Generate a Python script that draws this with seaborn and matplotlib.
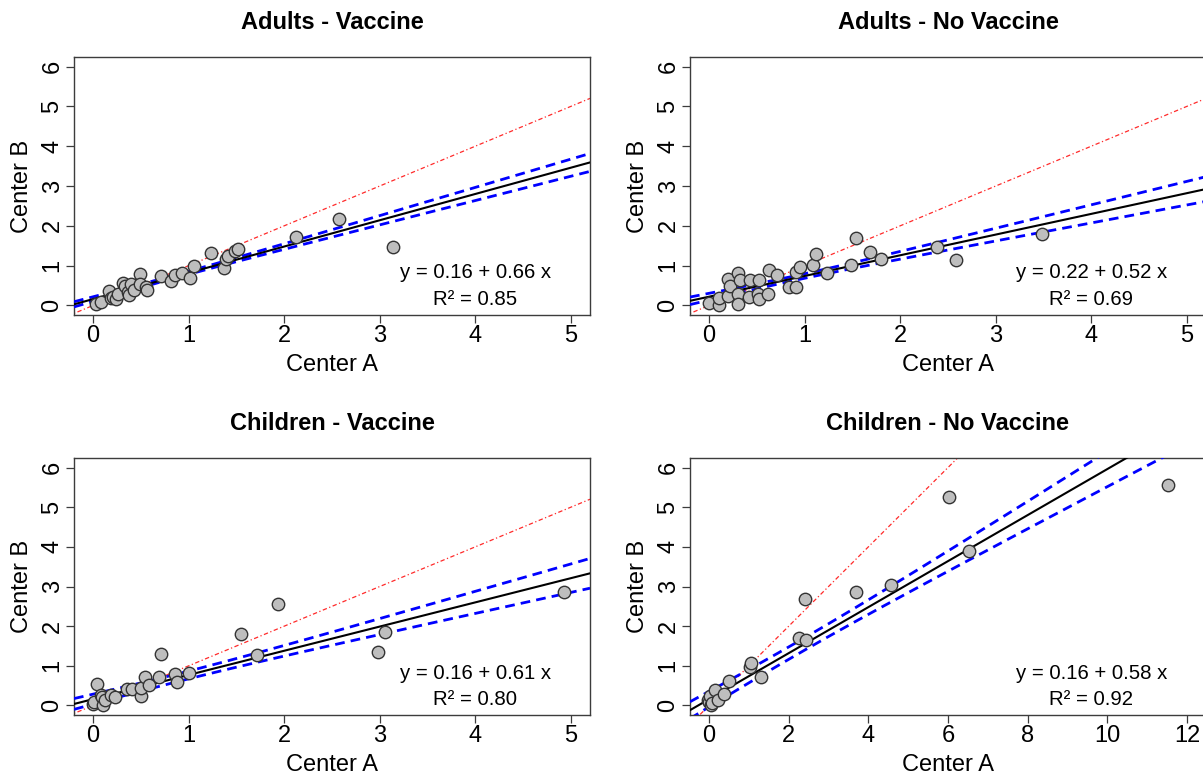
import numpy as np
import pandas as pd
import seaborn as sns
import matplotlib
matplotlib.use("Agg")
import matplotlib.pyplot as plt

# ---- data (Center A vs Center B) ----
titles = ["Adults - Vaccine", "Adults - No Vaccine",
          "Children - Vaccine", "Children - No Vaccine"]

adults_vac_a = [0.03, 0.08, 0.17, 0.19, 0.21, 0.24, 0.26, 0.31, 0.33, 0.36, 0.38,
                0.40, 0.43, 0.49, 0.49, 0.55, 0.56, 0.71, 0.81, 0.86, 0.93, 1.01,
                1.06, 1.23, 1.37, 1.39, 1.41, 1.49, 1.52, 2.12, 2.57, 3.14]
adults_vac_b = [0.03, 0.08, 0.37, 0.18, 0.22, 0.16, 0.28, 0.57, 0.49, 0.33, 0.25,
                0.53, 0.40, 0.79, 0.53, 0.47, 0.39, 0.74, 0.61, 0.77, 0.82, 0.68,
                1.00, 1.32, 0.93, 1.17, 1.25, 1.37, 1.41, 1.73, 2.16, 1.48]

adults_novac_a = [0.00, 0.10, 0.10, 0.20, 0.20, 0.22, 0.30, 0.30, 0.30, 0.32, 0.42,
                  0.43, 0.51, 0.52, 0.52, 0.62, 0.63, 0.71, 0.84, 0.91, 0.91, 0.95,
                  1.09, 1.12, 1.23, 1.48, 1.54, 1.68, 1.80, 2.38, 2.58, 3.48]
adults_novac_b = [0.07, 0.00, 0.19, 0.23, 0.67, 0.48, 0.82, 0.28, 0.04, 0.65, 0.21,
                  0.63, 0.30, 0.15, 0.63, 0.30, 0.88, 0.76, 0.47, 0.47, 0.84, 0.96,
                  1.01, 1.28, 0.82, 1.01, 1.69, 1.33, 1.17, 1.47, 1.13, 1.80]

child_vac_a = [0.00, 0.01, 0.04, 0.08, 0.09, 0.10, 0.12, 0.19, 0.23, 0.35, 0.41,
               0.50, 0.50, 0.54, 0.58, 0.69, 0.71, 0.86, 0.88, 1.00, 1.55, 1.72,
               1.94, 2.98, 3.05, 4.93]
child_vac_b = [0.03, 0.08, 0.55, 0.27, 0.22, 0.02, 0.15, 0.27, 0.21, 0.42, 0.42,
               0.23, 0.44, 0.72, 0.52, 0.72, 1.31, 0.80, 0.58, 0.81, 1.81, 1.27,
               2.56, 1.35, 1.85, 2.86]

child_novac_a = [-0.03, 0.00, 0.02, 0.04, 0.08, 0.15, 0.23, 0.38, 0.49, 1.03, 1.06,
                 1.30, 2.25, 2.44, 2.42, 3.69, 4.56, 6.02, 6.53, 11.52]
child_novac_b = [0.15, 0.08, 0.25, 0.00, 0.06, 0.40, 0.15, 0.28, 0.61, 0.98, 1.07,
                 0.73, 1.70, 1.64, 2.69, 2.87, 3.03, 5.26, 3.90, 5.56]

# regression shown in the reference (labels) and band half-width at right edge
fit_intercept = [0.16, 0.22, 0.16, 0.16]
fit_slope = [0.66, 0.52, 0.61, 0.58]
fit_r2 = [0.85, 0.69, 0.80, 0.92]
band_edge_halfwidth = [0.225, 0.31, 0.375, 0.57]

x_max = [5, 5, 5, 12]
x_ticks = [[0, 1, 2, 3, 4, 5], [0, 1, 2, 3, 4, 5],
           [0, 1, 2, 3, 4, 5], [0, 2, 4, 6, 8, 10, 12]]
y_ticks = [0, 1, 2, 3, 4, 5, 6]

panels = [(adults_vac_a, adults_vac_b), (adults_novac_a, adults_novac_b),
          (child_vac_a, child_vac_b), (child_novac_a, child_novac_b)]

sns.set_theme(style="white")
plt.rcParams["font.family"] = ["Liberation Sans", "DejaVu Sans"]
plt.rcParams["axes.edgecolor"] = "#3c3c3c"
plt.rcParams["axes.linewidth"] = 1.0
plt.rcParams["text.color"] = "black"
plt.rcParams["axes.labelcolor"] = "black"
plt.rcParams["xtick.labelcolor"] = "black"
plt.rcParams["ytick.labelcolor"] = "black"

fig = plt.figure(figsize=(12.03, 7.74), dpi=100)
W, H = 1203, 774
boxes = [(74, 57, 516, 258), (690, 57, 516, 258),
         (74, 458, 516, 257), (690, 458, 516, 257)]

for i, (xa, yb) in enumerate(panels):
    l, t, w, h = boxes[i]
    ax = fig.add_axes([l / W, 1 - (t + h) / H, w / W, h / H])
    df = pd.DataFrame({"A": xa, "B": yb})

    pad = 0.04 * x_max[i]
    xlim = (-pad, x_max[i] + pad)
    ylim = (-0.24, 6.24)
    xs = np.linspace(xlim[0], xlim[1], 300)

    # identity line y = x
    sns.lineplot(x=xs, y=xs, ax=ax, color="#ff2a2a", lw=0.9,
                 dashes=(1.0, 2.0, 3.5, 2.0), zorder=2)

    # fitted line and its confidence band (hyperbolic shape from the x data)
    x = df["A"].to_numpy()
    n = len(x)
    sxx = np.sum((x - x.mean()) ** 2)
    shape = np.sqrt(1 / n + (xs - x.mean()) ** 2 / sxx)
    half = band_edge_halfwidth[i] * shape / shape[-1]
    fit = fit_intercept[i] + fit_slope[i] * xs

    for band in (fit + half, fit - half):
        ax.plot(xs, band, color="#0000ff", lw=2, dashes=(3.5, 2.2), zorder=3)
    ax.plot(xs, fit, color="black", lw=1.5, zorder=3)

    sns.scatterplot(data=df, x="A", y="B", ax=ax, s=80, color="#bebebe",
                    edgecolor="#333333", linewidth=1.0, zorder=4)

    ax.set_xlim(xlim)
    ax.set_ylim(ylim)
    ax.set_xticks(x_ticks[i])
    ax.set_yticks(y_ticks)
    ax.tick_params(axis="both", direction="out", length=5.5, width=0.9,
                   color="#3c3c3c", labelsize=17, bottom=True, left=True, pad=2)
    for lab in ax.get_yticklabels():
        lab.set_rotation(90)
        lab.set_va("center")
    ax.set_xlabel("Center A", fontsize=17, labelpad=5)
    ax.set_ylabel("Center B", fontsize=17, labelpad=6)
    ax.set_title(titles[i], fontsize=17, fontweight="bold", pad=20)
    for sp in ax.spines.values():
        sp.set_visible(True)

    ax.text(0.778, 0.163, f"y = {fit_intercept[i]:.2f} + {fit_slope[i]:.2f} x",
            transform=ax.transAxes, ha="center", va="center", fontsize=14.7)
    ax.text(0.778, 0.062, f"R² = {fit_r2[i]:.2f}", transform=ax.transAxes,
            ha="center", va="center", fontsize=14.7)

fig.savefig("out.png", dpi=100)
